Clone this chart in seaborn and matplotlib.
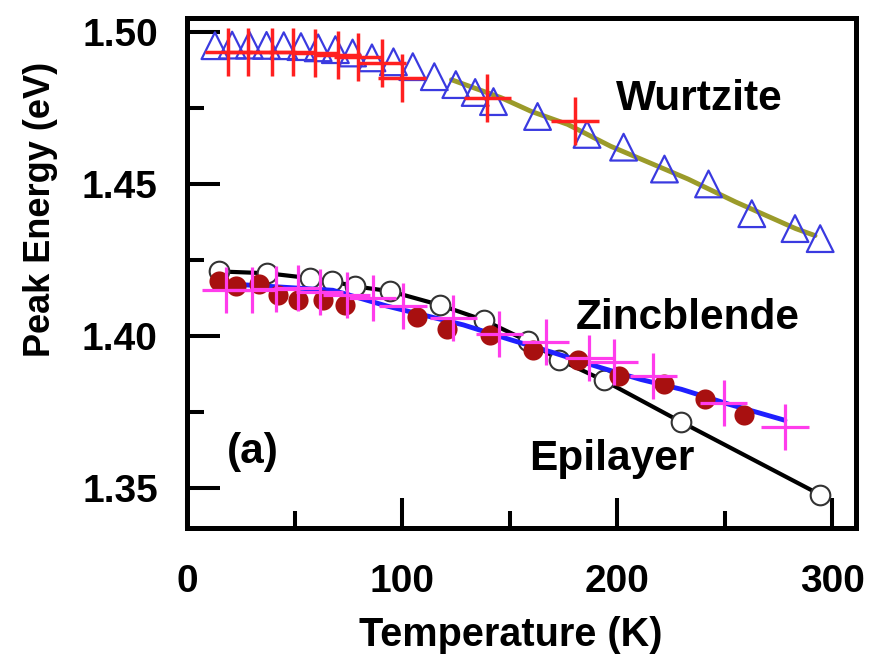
import matplotlib
matplotlib.use("Agg")
import matplotlib.pyplot as plt
from matplotlib.ticker import MultipleLocator, FormatStrFormatter
import seaborn as sns

# wurtzite: PL peak (open triangles), fit line, cross points with error bars
wz_temp = [13, 21, 29, 37, 45, 53, 61, 69, 77, 86, 96, 105, 115, 125, 134, 142.5,
           163, 186, 203, 222, 242.5, 262.6, 282.7, 294.4]
wz_energy = [1.4955, 1.4957, 1.4957, 1.4956, 1.4955, 1.4952, 1.4948, 1.4942, 1.4931,
             1.4915, 1.4902, 1.4886, 1.4853, 1.4827, 1.4801, 1.4771,
             1.4722, 1.4663, 1.4621, 1.4549, 1.4500, 1.4402, 1.4353, 1.4320]
wz_fit_temp = [123, 146, 160, 177, 197, 233, 255, 283, 292]
wz_fit_energy = [1.4843, 1.4784, 1.4739, 1.4696, 1.4624, 1.4516, 1.4441, 1.4353, 1.4330]
wz_cross_temp = [19.2, 28.5, 39.7, 49.1, 59.3, 70.1, 79.4, 90.7, 100, 139.7, 180.4]
wz_cross_energy = [1.4935, 1.4935, 1.4935, 1.4935, 1.4931, 1.4925, 1.4918, 1.4899,
                   1.4850, 1.4784, 1.4706]
wz_xerr = 11
wz_yerr = 0.0079

# zincblende: filled circles, fit line, cross points with error bars
zb_temp = [15, 22.9, 33.6, 42.1, 51.4, 63.1, 73.4, 107, 121, 141.1, 160.7, 181.8,
           200.9, 222, 240.7, 258.9]
zb_energy = [1.4180, 1.4163, 1.4170, 1.4134, 1.4118, 1.4118, 1.4101, 1.4062, 1.4023,
             1.4003, 1.3954, 1.3922, 1.3869, 1.3840, 1.3791, 1.3739]
zb_fit_temp = [15, 67.8, 93, 128.5, 150.5, 170.6, 192.5, 211.2, 229.9, 251.9, 278]
zb_fit_energy = [1.4173, 1.4150, 1.4098, 1.4036, 1.3987, 1.3944, 1.3895, 1.3856,
                 1.3824, 1.3775, 1.3722]
zb_cross_temp = [18.2, 30.4, 41.6, 51.4, 61.7, 74.3, 86.4, 100.5, 123.8, 145.3, 166.8,
                 186.9, 198.6, 216.8, 249.5, 278]
zb_cross_energy = [1.4150, 1.4150, 1.4154, 1.4157, 1.4144, 1.4134, 1.4124, 1.4098,
                   1.4059, 1.4007, 1.3980, 1.3928, 1.3915, 1.3869, 1.3778, 1.3699]
zb_xerr = 11
zb_yerr = 0.0076

# epilayer: open circles joined by a line
epi_temp = [15, 37.4, 57, 67.3, 78, 94.4, 117.8, 137.9, 158.4, 172.9, 193.9, 229.9, 294.4]
epi_energy = [1.4212, 1.4206, 1.4190, 1.4180, 1.4163, 1.4147, 1.4101, 1.4052, 1.3983,
              1.3922, 1.3853, 1.3716, 1.3477]

sns.set_theme(style="ticks")
plt.rcParams['font.family'] = ['Liberation Sans', 'DejaVu Sans']
plt.rcParams['font.weight'] = 'bold'
for key in ['text.color', 'axes.labelcolor', 'xtick.color', 'ytick.color']:
    plt.rcParams[key] = 'black'

fig = plt.figure(figsize=(8.79, 6.69), dpi=100)
ax = fig.add_axes([0.2127, 0.211, 0.761, 0.762])

# epilayer
sns.lineplot(x=epi_temp, y=epi_energy, ax=ax, color='black', lw=3, sort=False, zorder=1)
sns.scatterplot(x=epi_temp, y=epi_energy, ax=ax, marker='o', s=200, fc='white',
                ec='#333333', linewidth=1.5, zorder=2)

# zincblende
sns.lineplot(x=zb_fit_temp, y=zb_fit_energy, ax=ax, color='#1f1fff', lw=3.5, sort=False, zorder=3)
sns.scatterplot(x=zb_temp, y=zb_energy, ax=ax, marker='o', s=210, color='#a81010',
                linewidth=0, zorder=4)
ax.errorbar(zb_cross_temp, zb_cross_energy, xerr=zb_xerr, yerr=zb_yerr, fmt='none',
            ecolor='#ff3cec', elinewidth=2.3, capsize=0, zorder=5)

# wurtzite
sns.lineplot(x=wz_fit_temp, y=wz_fit_energy, ax=ax, color='#9b9b2a', lw=3.5, sort=False, zorder=1)
sns.scatterplot(x=wz_temp, y=wz_energy, ax=ax, marker='^', s=370, fc='none',
                ec='#3a3ae0', linewidth=1.6, zorder=2)
ax.errorbar(wz_cross_temp, wz_cross_energy, xerr=wz_xerr, yerr=wz_yerr, fmt='none',
            ecolor='#ff2020', elinewidth=2.5, capsize=0, zorder=6)

ax.set_xlim(0, 311)
ax.set_ylim(1.3368, 1.5046)
ax.xaxis.set_major_locator(MultipleLocator(100))
ax.xaxis.set_minor_locator(MultipleLocator(50))
ax.yaxis.set_major_locator(MultipleLocator(0.05))
ax.yaxis.set_minor_locator(MultipleLocator(0.025))
ax.yaxis.set_major_formatter(FormatStrFormatter('%.2f'))

ax.tick_params(axis='both', which='both', direction='in', width=2.9, color='black',
               labelsize=28)
ax.tick_params(axis='x', which='major', length=21.5, pad=26)
ax.tick_params(axis='y', which='major', length=24, pad=21)
ax.tick_params(axis='both', which='minor', length=12)
for sp in ax.spines.values():
    sp.set_linewidth(3.6)
    sp.set_color('black')

ax.set_xlabel('Temperature (K)', fontsize=28.5, fontweight='bold')
ax.xaxis.set_label_coords(0.484, -0.172)
ax.set_ylabel('Peak Energy (eV)', fontsize=26, fontweight='bold')
ax.yaxis.set_label_coords(-0.193, 0.624)

ax.text(199.5, 1.4778, 'Wurtzite', fontsize=30.5, fontweight='bold', va='center')
ax.text(180.8, 1.4059, 'Zincblende', fontsize=30.5, fontweight='bold', va='center')
ax.text(158.9, 1.3595, 'Epilayer', fontsize=30.5, fontweight='bold', va='center')
ax.text(18.7, 1.3618, '(a)', fontsize=30.5, fontweight='bold', va='center')

fig.savefig('out.png', dpi=100)
